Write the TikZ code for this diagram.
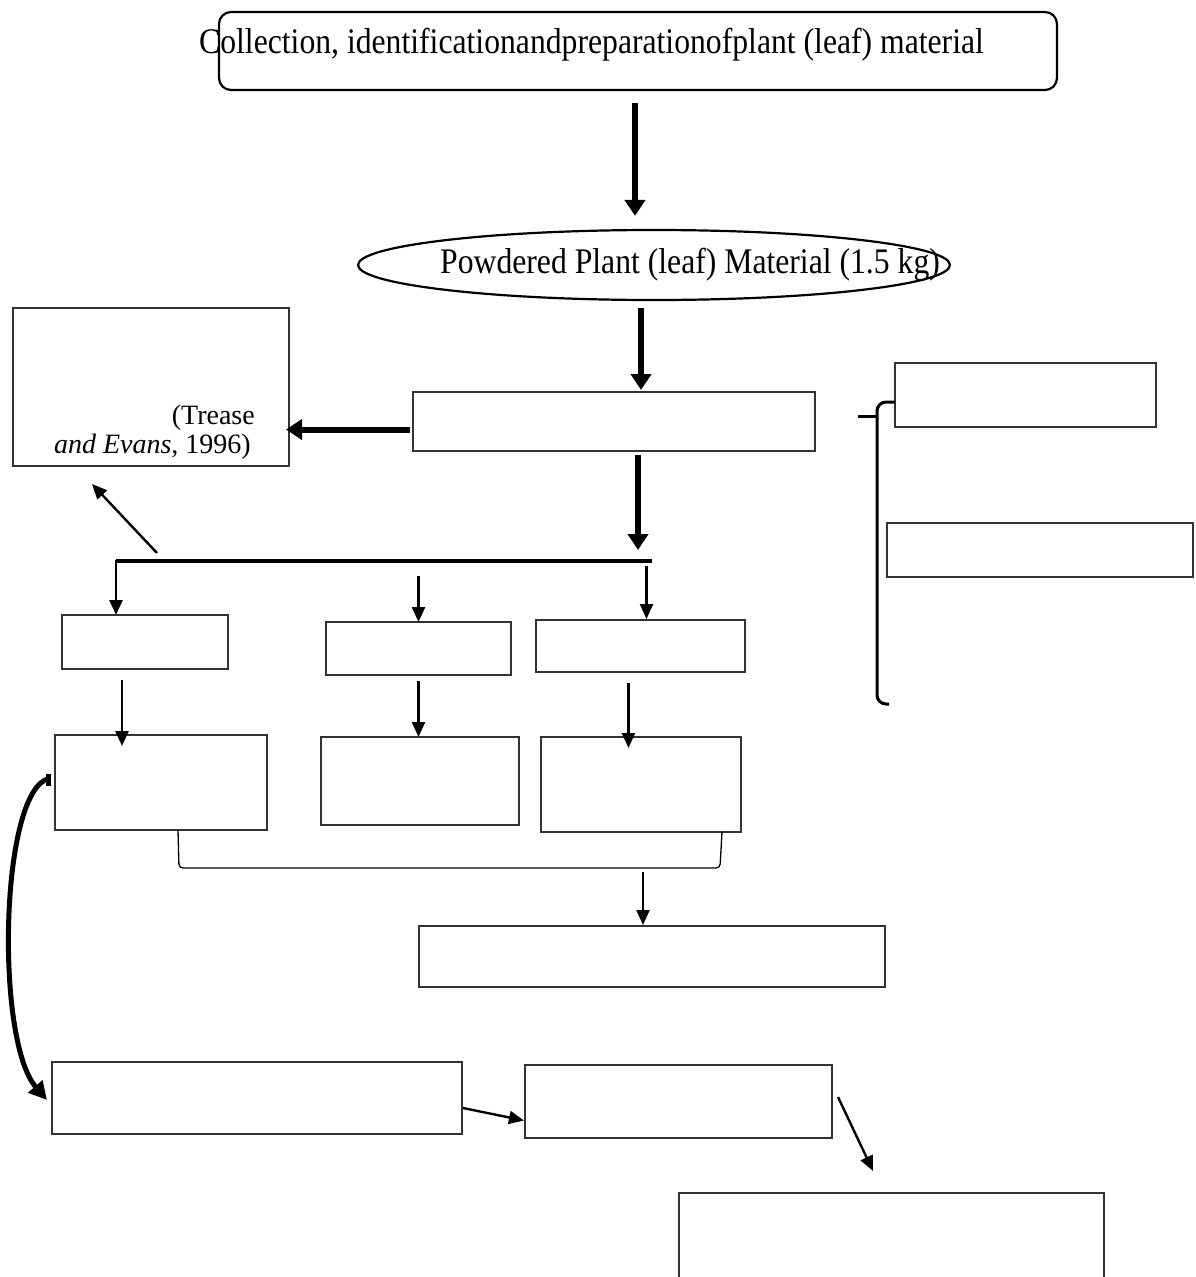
\documentclass[tikz,border=0pt]{standalone}
\usepackage{fontspec}
\setmainfont{Liberation Serif}
\newfontfamily\condserif[FakeStretch=0.88]{Liberation Serif}
\usetikzlibrary{arrows.meta,shapes.geometric}
\begin{document}
\begin{tikzpicture}[x=1pt,y=-1pt,
  box/.style={draw=black!80, line width=1.5pt, inner sep=0pt, outer sep=0pt, anchor=north west},
  bigarrow/.style={line width=6pt, -{Triangle[width=20pt,length=16pt]}},
  smallarrow/.style={line width=2.4pt, -{Triangle[width=13pt,length=15pt]}},
  bigtext/.style={font=\condserif\fontsize{36}{40}\selectfont, inner sep=0pt},
  reftext/.style={font=\fontsize{28}{32}\selectfont, inner sep=0pt, anchor=base east},
  thinline/.style={line width=1.3pt, rounded corners=4pt},
  bracestyle/.style={line width=3pt, rounded corners=9pt},
  ]
\useasboundingbox (0,0) rectangle (1195,1277);
\fill[white] (0,0) rectangle (1195,1277);

% top box
\node[box, draw=black, line width=2.2pt, rounded corners=12pt, minimum width=838pt, minimum height=78pt] (top) at (219,12) {};
\node[bigtext, anchor=west] (toptxt) at (199,45) {Collection, identificationandpreparationofplant (leaf) material};

% ellipse
\node[ellipse, draw=black, line width=2.2pt, minimum width=592pt, minimum height=70pt, inner sep=0pt] (ell) at (654,265) {};
\node[bigtext, anchor=west] (elltxt) at (440,265) {Powdered Plant (leaf) Material (1.5 kg)};

% boxes
\node[box, minimum width=402pt, minimum height=59pt] (mid) at (413,392) {};
\node[box, minimum width=276pt, minimum height=158pt] (trease) at (13,308) {};
\node[reftext] (t1) at (255,424) {(Trease};
\node[reftext] (t2) at (251,453) {\textit{and Evans}, 1996)};

\node[box, minimum width=166pt, minimum height=54pt] (A) at (62,615) {};
\node[box, minimum width=185pt, minimum height=53pt] (B) at (326,622) {};
\node[box, minimum width=209pt, minimum height=52pt] (C) at (536,620) {};
\node[box, minimum width=212pt, minimum height=95pt] (D) at (55,735) {};
\node[box, minimum width=198pt, minimum height=88pt] (E) at (321,737) {};
\node[box, minimum width=200pt, minimum height=95pt] (F) at (541,737) {};
\node[box, minimum width=466pt, minimum height=61pt] (G) at (419,926) {};
\node[box, minimum width=410pt, minimum height=72pt] (H) at (52,1062) {};
\node[box, minimum width=307pt, minimum height=73pt] (I) at (525,1065) {};
\node[box, minimum width=425pt, minimum height=110pt] (J) at (679,1193) {};
\node[box, minimum width=261pt, minimum height=64pt] (K) at (895,363) {};
\node[box, minimum width=306pt, minimum height=54pt] (L) at (887,523) {};

% thick arrows
\draw[bigarrow] ([shift={(-3,13)}]top.south) -- ([shift={(-19,-13)}]ell.north);
\draw[bigarrow] ([shift={(-13,7)}]ell.south) -- ([shift={(27,-2)}]mid.north);
\draw[bigarrow] ([shift={(-3,8)}]mid.west) -- ([shift={(-3,8)}]mid.west -| trease.east);
\draw[bigarrow] ([shift={(24,4)}]mid.south) -- ++(0,95);

% distribution line
\coordinate (dR) at (652,561);
\coordinate (dL) at (116,561);
\coordinate (dg) at (157,553);
\draw[line width=3.5pt] (dR) -- (dL);
\draw[smallarrow] ([yshift=1.5pt]dL) -- (dL |- A.north);
\draw[smallarrow] (dg) -- ([shift={(-59,18)}]trease.south);
\draw[smallarrow] ([yshift=46pt]B.north) -- (B.north);
\draw[smallarrow] ([shift={(6,-54)}]C.north) -- ([shift={(6,-1)}]C.north);

% second row arrows
\draw[smallarrow] ([shift={(-23,11)}]A.south) -- ([shift={(-23,11)}]A.south |- D.north);
\draw[smallarrow] ([yshift=-6pt]B.south) -- (B.south |- E.north);
\draw[smallarrow] ([shift={(-12,11)}]C.south) -- ([shift={(-12,11)}]C.south |- F.north);

% bracket under row 2
\draw[thinline] ([xshift=17pt]D.south) -- ++(1,38) -- ([shift={(79,36)}]F.south) -- ([xshift=81pt]F.south);
\draw[smallarrow] ([shift={(-9,-54)}]G.north) -- ([shift={(-9,-1)}]G.north);

% curved arrow
\fill ([shift={(-9,-9)}]D.west) rectangle ([shift={(-4,3)}]D.west);
\draw[line width=5pt, -{Triangle[width=18pt,length=18pt]}] ([shift={(-6,-4)}]D.west) .. controls (0,790) and (-5,1040) .. ([shift={(-5,2)}]H.west);

% bottom arrows
\draw[smallarrow] ([shift={(1,10)}]H.east) -- ([shift={(-1,19)}]I.west);
\draw[smallarrow] ([shift={(6,-4.5)}]I.east) -- ([shift={(-18.5,-22)}]J.north);

% right brace
\draw[bracestyle] ([shift={(0,7)}]K.west) -- (877,402) -- (877,704) -- (889,704);
\draw[line width=3pt] (858,416) -- (877,416);
\end{tikzpicture}
\end{document}
